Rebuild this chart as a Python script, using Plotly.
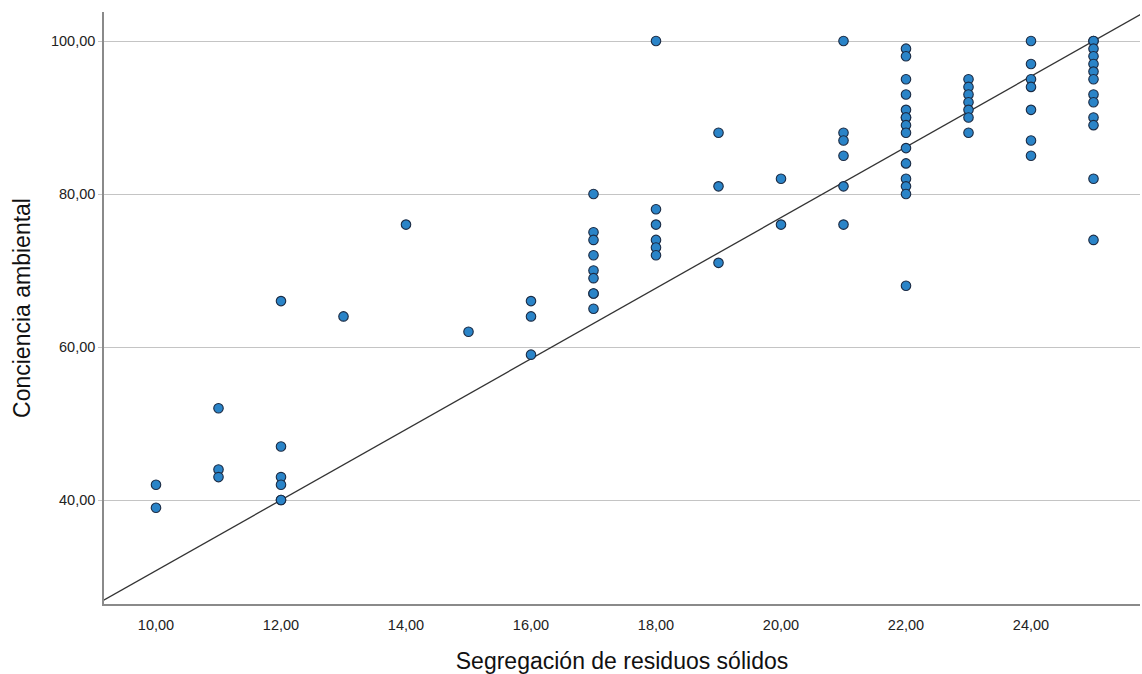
import plotly.graph_objects as go

# Data
segregacion = (
    [10] * 2 + [11] * 3 + [12] * 6 + [13] + [14] + [15] + [16] * 3 +
    [17] * 9 + [18] * 6 + [19] * 3 + [20] * 2 + [21] * 6 + [22] * 15 +
    [23] * 7 + [24] * 7 + [25] * 13
)
conciencia = (
    [42, 39] +
    [52, 44, 43] +
    [66, 47, 43, 42, 40, 40] +
    [64] + [76] + [62] +
    [66, 64, 59] +
    [80, 75, 74, 72, 70, 69, 67, 67, 65] +
    [100, 78, 76, 74, 73, 72] +
    [88, 81, 71] +
    [82, 76] +
    [100, 88, 87, 85, 81, 76] +
    [99, 98, 95, 93, 91, 90, 90, 89, 88, 86, 84, 82, 81, 80, 68] +
    [95, 94, 93, 92, 91, 90, 88] +
    [100, 97, 95, 94, 91, 87, 85] +
    [100, 100, 99, 98, 97, 96, 95, 93, 92, 90, 89, 82, 74]
)

# Fit line
fit_intercept = -15.38
fit_slope = 4.615
fit_x = [9.0, 26.0]
fit_y = [fit_intercept + fit_slope * v for v in fit_x]

x_ticks = [10, 12, 14, 16, 18, 20, 22, 24]
y_ticks = [40, 60, 80, 100]

fig = go.Figure()
fig.add_trace(go.Scatter(
    x=fit_x, y=fit_y, mode="lines",
    line=dict(color="#333333", width=1.3),
    hoverinfo="skip", showlegend=False,
))
fig.add_trace(go.Scatter(
    x=segregacion, y=conciencia, mode="markers",
    marker=dict(size=9.5, color="#2A84C8", line=dict(color="#1B2B44", width=1.1)),
    showlegend=False,
))

font_main = "Liberation Sans, Arial, sans-serif"

fig.update_layout(
    width=1142, height=674,
    margin=dict(l=104, r=2, t=12, b=70),
    paper_bgcolor="white", plot_bgcolor="white",
    separators=",.",
    font=dict(family=font_main, color="#222222", size=12),
    xaxis=dict(
        range=[9.168, 25.744],
        tickvals=x_ticks, tickformat=".2f",
        showgrid=False, zeroline=False,
        showline=True, linecolor="#8a8a8a", linewidth=1.5,
        ticks="outside", ticklen=7, tickcolor="rgba(0,0,0,0)",
        tickfont=dict(size=14.5, color="#222222"),
        automargin=False,
        title=dict(text="Segregación de residuos sólidos",
                   font=dict(size=23, color="#111111", family=font_main),
                   standoff=22),
    ),
    yaxis=dict(
        range=[26.41, 103.79],
        tickvals=y_ticks, tickformat=".2f",
        showgrid=True, gridcolor="#c4c4c4", gridwidth=1,
        zeroline=False,
        showline=True, linecolor="#8a8a8a", linewidth=1.5,
        ticks="outside", ticklen=4, tickcolor="#c4c4c4",
        tickfont=dict(size=14.5, color="#222222"),
        automargin=False,
        title=dict(text="Conciencia ambiental",
                   font=dict(size=23, color="#111111", family=font_main),
                   standoff=14),
    ),
)

fig.write_html("out.html")
